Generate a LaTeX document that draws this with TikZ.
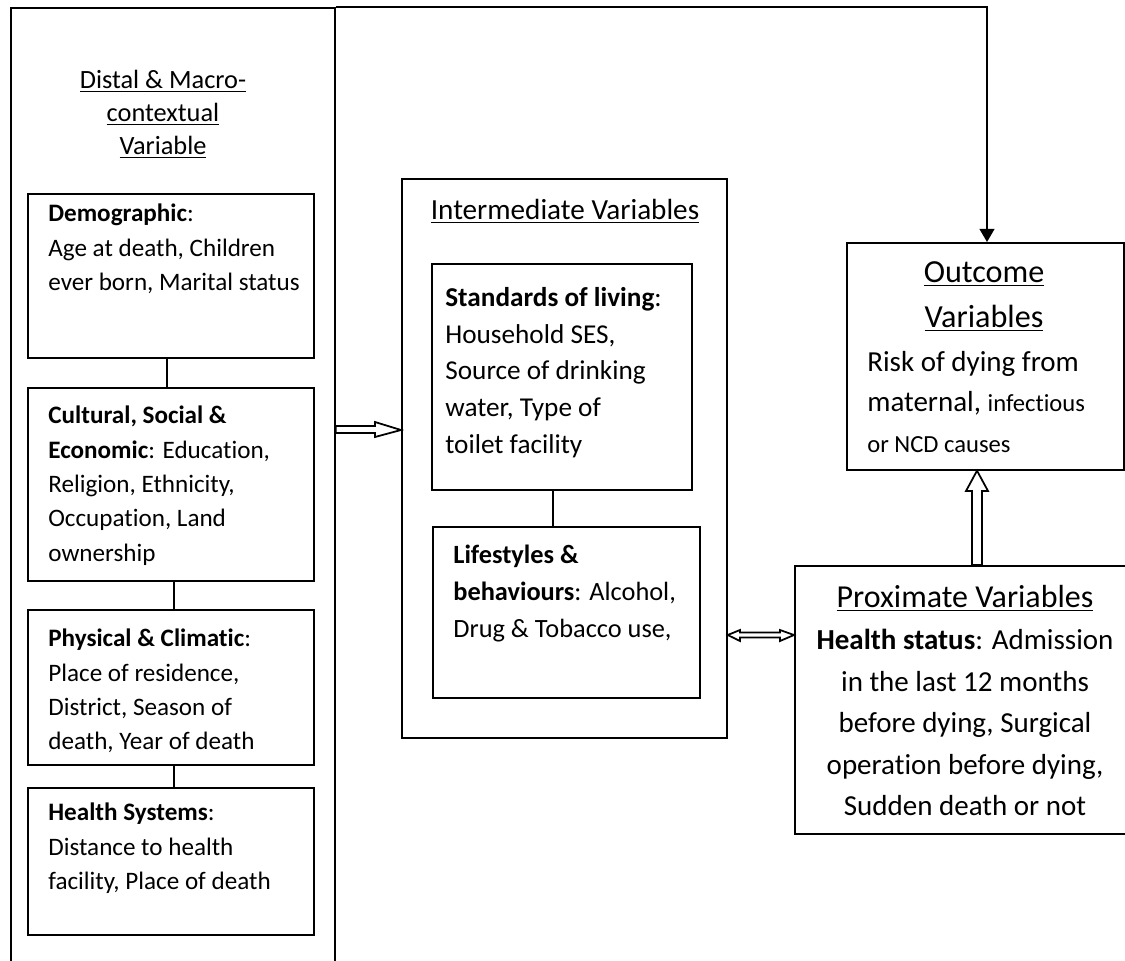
\documentclass[tikz,border=0pt]{standalone}
\usepackage{fontspec}
\setmainfont{Carlito}[Ligatures=NoCommon]
\usetikzlibrary{arrows.meta}

\begin{document}
\begin{tikzpicture}[
  x=0.02cm, y=-0.02cm,
  >={Triangle[length=7.5pt,width=8.5pt]},
  frame/.style={draw, rectangle, anchor=north west, inner sep=0pt,
    line width=1pt},
  heading/.style={anchor=north, align=center, inner sep=0pt},
  body/.style={anchor=north west, align=left, inner sep=0pt,
    font=\fontsize{14.3}{19.5}\selectfont},
  link/.style={draw, line width=1pt},
  arrow/.style={->, draw, line width=1pt},
  hollow/.style={draw, fill=white, line width=1pt, line join=miter}
]

\clip (0,0) rectangle (1125,960);

% Distal and macro-contextual column
\node[frame, minimum width=6.48cm, minimum height=20cm] (distal) at (10,7) {};
\node[heading, font=\fontsize{15}{18.8}\selectfont] (distaltitle) at (163,70)
  {\underline{Distal \& Macro-}\\\underline{contextual}\\\underline{Variable}};

\node[frame, minimum width=5.72cm, minimum height=3.28cm] (demo) at (27,193) {};
\node[body] (demotext) at (48,204)
  {\textbf{Demographic}:\\Age at death, Children\\ever born, Marital status};

\node[frame, minimum width=5.72cm, minimum height=3.86cm] (culture) at (27,387) {};
\node[body] (culturetext) at (48,406)
  {\textbf{Cultural, Social \&}\\\textbf{Economic}: Education,\\Religion, Ethnicity,\\Occupation, Land\\ownership};

\node[frame, minimum width=5.72cm, minimum height=3.10cm] (physical) at (27,609) {};
\node[body] (physicaltext) at (48,629)
  {\textbf{Physical \& Climatic}:\\Place of residence,\\District, Season of\\death, Year of death};

\node[frame, minimum width=5.72cm, minimum height=2.94cm] (health) at (27,787) {};
\node[body] (healthtext) at (48,803)
  {\textbf{Health Systems}:\\Distance to health\\facility, Place of death};

\draw[link] (demo.south -| 167,0) -- (culture.north -| 167,0);
\draw[link] (culture.south -| 174,0) -- (physical.north -| 174,0);
\draw[link] (physical.south -| 174,0) -- (health.north -| 174,0);

% Intermediate variables
\node[frame, minimum width=6.50cm, minimum height=11.18cm] (inter) at (401,178) {};
\node[heading, font=\fontsize{16.6}{20}\selectfont] (intertitle) at (565,199)
  {\underline{Intermediate Variables}};

\node[frame, minimum width=5.20cm, minimum height=4.52cm] (living) at (431,263) {};
\node[body, font=\fontsize{15.5}{20.9}\selectfont] (livingtext) at (445,287)
  {\textbf{Standards of living}:\\Household SES,\\Source of drinking\\water, Type of\\toilet facility};

\node[frame, minimum width=5.34cm, minimum height=3.42cm] (lifestyle) at (432,526) {};
\node[body, font=\fontsize{15}{21}\selectfont] (lifestyletext) at (453,545)
  {\textbf{Lifestyles \&}\\\textbf{behaviours}: Alcohol,\\Drug \& Tobacco use,};

\draw[link] (living.south -| 553,0) -- (lifestyle.north -| 553,0);

% Outcome and proximate variables
\node[frame, minimum width=5.54cm, minimum height=4.54cm] (outcome) at (846,242) {};
\node[heading, font=\fontsize{18.3}{25.6}\selectfont] (outcometitle) at (984,261)
  {\underline{Outcome}\\\underline{Variables}};
\node[body, font=\fontsize{16.5}{23}\selectfont] (outcometext) at (867,351)
  {Risk of dying from\\maternal, {\fontsize{14}{21}\selectfont infectious}\\{\fontsize{14}{21}\selectfont or NCD causes}};

\node[frame, minimum width=6.80cm, minimum height=5.36cm] (prox) at (794,565) {};
\node[heading, font=\fontsize{18.2}{22}\selectfont] (proxtitle) at (965,585)
  {\underline{Proximate Variables}};
\node[heading, font=\fontsize{16.5}{23.6}\selectfont] (proxtext) at (965,629)
  {\textbf{Health status}: Admission\\in the last 12 months\\before dying, Surgical\\operation before dying,\\Sudden death or not};

% Connectors
\draw[arrow] (distal.north east) -| (outcome.north -| 987,0);

\draw[hollow] (distal.east |- 0,426) -- (375,426) -- (375,422)
  -- (inter.west |- 0,430) -- (375,437) -- (375,433)
  -- (distal.east |- 0,433) -- cycle;

\draw[hollow] (inter.east |- 0,635) -- (740,630) -- (740,632.5)
  -- (780,632.5) -- (780,630) -- (prox.west |- 0,635)
  -- (780,641) -- (780,637.5) -- (740,637.5) -- (740,641) -- cycle;

\draw[hollow] (prox.north -| 972,0) -- (972,491) -- (966,491)
  -- (outcome.south -| 977,0) -- (988,491) -- (982,491)
  -- (prox.north -| 982,0) -- cycle;

\end{tikzpicture}
\end{document}
